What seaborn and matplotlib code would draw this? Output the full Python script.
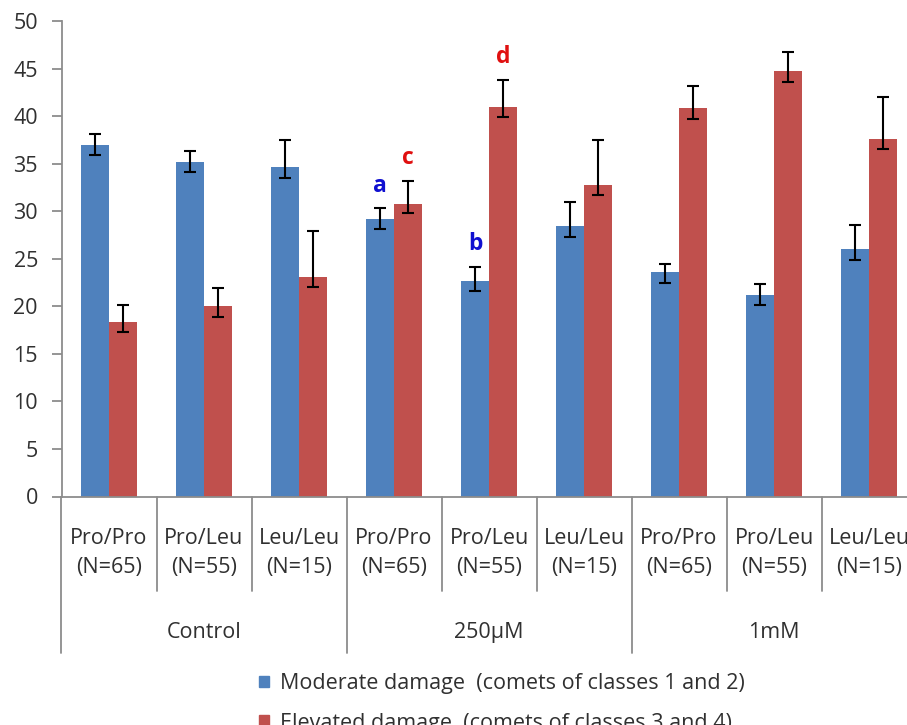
import matplotlib
matplotlib.use('Agg')
import matplotlib.pyplot as plt
import seaborn as sns
import numpy as np
import pandas as pd

# Chart data
groups = ['Control', '250µM', '1mM']
genotypes = ['Pro/Pro', 'Pro/Leu', 'Leu/Leu']
sample_sizes = [65, 55, 15]

moderate = [37.0, 35.2, 34.6, 29.2, 22.7, 28.4, 23.6, 21.2, 26.0]
elevated = [18.3, 20.0, 23.1, 30.8, 41.0, 32.8, 40.8, 44.7, 37.6]
moderate_err_hi = [1.1, 1.1, 2.9, 1.1, 1.4, 2.6, 0.9, 1.1, 2.6]
moderate_err_lo = [1.1, 1.1, 1.1, 1.1, 1.1, 1.1, 1.1, 1.1, 1.1]
elevated_err_hi = [1.8, 1.9, 4.8, 2.4, 2.8, 4.7, 2.4, 2.0, 4.4]
elevated_err_lo = [1.0, 1.1, 1.1, 1.0, 1.1, 1.1, 1.1, 1.1, 1.1]

series_names = ['Moderate damage  (comets of classes 1 and 2)',
                'Elevated damage  (comets of classes 3 and 4)']

# significance letters: (category index, series index, letter, colour)
letters = [(3, 0, 'a', '#1010d0'), (3, 1, 'c', '#e01010'),
           (4, 0, 'b', '#1010d0'), (4, 1, 'd', '#e01010')]

colors = ['#4f81bd', '#c0504d']

# Build long-format table for seaborn
keys = [f'{g}|{gen}' for g in groups for gen in genotypes]
df = pd.DataFrame({
    'cond': keys * 2,
    'value': moderate + elevated,
    'series': [series_names[0]] * len(keys) + [series_names[1]] * len(keys),
})

sns.set_style('white')
plt.rcParams['font.family'] = ['Open Sans', 'DejaVu Sans']
text_color = '#303030'
axis_color = '#8c8c8c'
fs = 15.5

fig = plt.figure(figsize=(9.07, 7.25), dpi=100)
ax = fig.add_axes([61.5 / 907, (725 - 496.5) / 725, 855 / 907, 475.5 / 725])

sns.barplot(data=df, x='cond', y='value', hue='series', order=keys,
            hue_order=series_names, palette=colors, width=0.58,
            errorbar=None, saturation=1, legend=False, ax=ax,
            edgecolor='none')
bar_sets = list(ax.containers)

# Error bars at the bar centres
err_lo = [moderate_err_lo, elevated_err_lo]
err_hi = [moderate_err_hi, elevated_err_hi]
for s, cont in enumerate(bar_sets):
    xs = [p.get_x() + p.get_width() / 2 for p in cont.patches]
    ys = [p.get_height() for p in cont.patches]
    ax.errorbar(xs, ys, yerr=[err_lo[s], err_hi[s]], fmt='none',
                ecolor='black', elinewidth=1.5, capsize=4.5, capthick=1.5)

# Significance letters above the error bars
for cat, s, txt, col in letters:
    p = bar_sets[s].patches[cat]
    y = p.get_height() + err_hi[s][cat] + 2.4
    ax.text(p.get_x() + p.get_width() / 2, y, txt, color=col,
            fontsize=16.5, fontweight='bold', ha='center', va='center')

# Axes styling
ax.set_xlim(-0.5, len(keys) - 0.5)
ax.set_ylim(0, 50)
ax.set_yticks(np.arange(0, 51, 5))
ax.set_xlabel('')
ax.set_ylabel('')
for side in ['top', 'right']:
    ax.spines[side].set_visible(False)
for side in ['left', 'bottom']:
    ax.spines[side].set_color(axis_color)
    ax.spines[side].set_linewidth(1.3)
ax.tick_params(axis='y', left=True, length=7, width=1.3, color=axis_color,
               labelsize=fs, labelcolor=text_color, pad=10)

# Two-level category axis
xlabels = [f'{gen}\n(N={n})' for g in groups for gen, n in zip(genotypes, sample_sizes)]
ax.set_xticks(range(len(keys)))
ax.set_xticklabels(xlabels, fontsize=fs, color=text_color, linespacing=1.5)
ax.tick_params(axis='x', bottom=False, length=0, pad=23)

trans = ax.get_xaxis_transform()
for i in range(len(keys) + 1):
    bottom = -0.33 if i % 3 == 0 else -0.198
    ax.plot([i - 0.5, i - 0.5], [0, bottom], transform=trans, clip_on=False,
            color=axis_color, lw=1.3)
for j, g in enumerate(groups):
    ax.text(3 * j + 1, -0.286, g, transform=trans, ha='center', va='center',
            fontsize=fs, color=text_color)

# Legend below the chart
handles = [plt.Rectangle((0, 0), 1, 1, color=c) for c in colors]
fig.legend(handles, series_names, loc='upper left',
           bbox_to_anchor=(240 / 907, 1 - 654 / 725), frameon=False,
           fontsize=fs, handlelength=0.45, handleheight=0.45,
           handletextpad=0.5, labelspacing=0.85, labelcolor=text_color)

fig.savefig('out.png', dpi=100)
